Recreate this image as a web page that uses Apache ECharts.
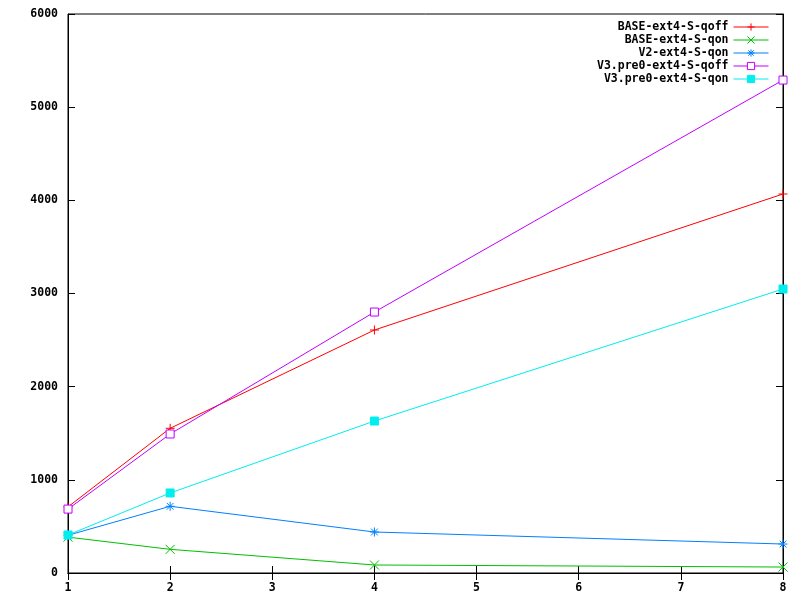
<!DOCTYPE html>
<html><head><meta charset="utf-8">
<script src="https://cdn.jsdelivr.net/npm/echarts@6/dist/echarts.min.js"></script>
<style>html,body{margin:0;padding:0;background:#fff}#c{width:800px;height:600px}</style>
</head><body><div id="c"></div>
<script>
const xs = [1, 2, 4, 8];
const seriesNames = ['BASE-ext4-S-qoff', 'BASE-ext4-S-qon', 'V2-ext4-S-qon', 'V3.pre0-ext4-S-qoff', 'V3.pre0-ext4-S-qon'];
const baseQoff = [710, 1553, 2608, 4068];
const baseQon = [385, 254, 86, 64];
const v2Qon = [405, 716, 440, 311];
const v3Qoff = [686, 1492, 2801, 5291];
const v3Qon = [408, 859, 1631, 3048];
const xTicks = [1, 2, 3, 4, 5, 6, 7, 8];
const yTicks = [0, 1000, 2000, 3000, 4000, 5000, 6000];

const colors = ['#ff0000', '#00c000', '#0080ff', '#c000ff', '#00eeee'];
const symbols = [
  'path://M4,0L4,8M0,4L8,4',
  'path://M0,0L8,8M0,8L8,0',
  'path://M4,0L4,8M0,4L8,4M1,1L7,7M1,7L7,1',
  'path://M0,0L8,0L8,8L0,8Z',
  'rect'
];
const sizes = [9, 9, 9, 8, 8];
const values = [baseQoff, baseQon, v2Qon, v3Qoff, v3Qon];
const font = '"DejaVu Sans Mono", monospace';

const chart = echarts.init(document.getElementById('c'), null, {renderer: 'canvas'});
const series = seriesNames.map((n, i) => ({
  name: n,
  type: 'line',
  data: xs.map((x, j) => [x, values[i][j]]),
  symbol: symbols[i],
  symbolSize: sizes[i],
  showAllSymbol: true,
  animation: false,
  lineStyle: {color: colors[i], width: 1},
  itemStyle: {color: i === 3 ? '#fff' : colors[i], borderColor: colors[i], borderWidth: 1},
  emphasis: {disabled: true},
  z: 2 + i
}));

const axisBase = {
  axisLine: {show: true, lineStyle: {color: '#000', width: 1}},
  axisTick: {show: true, inside: true, length: 7, lineStyle: {color: '#000'}},
  splitLine: {show: false},
};
chart.setOption({
  animation: false,
  backgroundColor: '#fff',
  color: colors,
  grid: {left: 68, top: 14, right: 17, bottom: 27, show: true, borderColor: '#000', borderWidth: 1, backgroundColor: 'transparent'},
  legend: {
    orient: 'vertical',
    right: 26,
    top: 16,
    align: 'right',
    itemWidth: 35,
    itemHeight: 9,
    itemGap: 1,
    data: seriesNames,
    lineStyle: {width: 1},
    itemStyle: {borderWidth: 1},
    textStyle: {fontFamily: font, fontWeight: 'bold', fontSize: 11.5, color: '#000', width: 137, align: 'right'},
    selectedMode: false
  },
  xAxis: [
    Object.assign({}, axisBase, {type: 'value', min: 1, max: 8, interval: 1, position: 'bottom',
      axisLabel: {color: '#000', fontFamily: font, fontWeight: 'bold', fontSize: 11.5, margin: 9,
        formatter: v => xTicks.includes(v) ? String(v) : ''}}),
    Object.assign({}, axisBase, {type: 'value', min: 1, max: 8, interval: 1, position: 'top', axisLabel: {show: false}})
  ],
  yAxis: [
    Object.assign({}, axisBase, {type: 'value', min: 0, max: 6000, interval: 1000, position: 'left',
      axisLabel: {color: '#000', fontFamily: font, fontWeight: 'bold', fontSize: 11.5, margin: 10,
        formatter: v => yTicks.includes(v) ? String(v) : ''}}),
    Object.assign({}, axisBase, {type: 'value', min: 0, max: 6000, interval: 1000, position: 'right', axisLabel: {show: false}})
  ],
  series: series
});
</script></body></html>
